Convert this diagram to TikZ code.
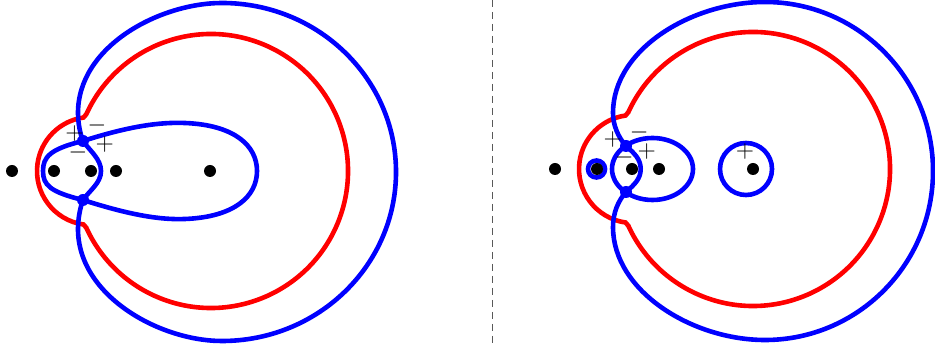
\documentclass[tikz,border=0pt]{standalone}
\usepackage{amsmath}
\usepackage{xcolor}
\begin{document}
\begin{tikzpicture}[x=0.5pt, y=0.5pt,
        punto/.style={circle, fill=black, inner sep=0pt, minimum size=6pt},
        cruce/.style={circle, fill=blue, inner sep=0pt, minimum size=6pt},
        rama/.style={line width=2.3pt},
        signo/.style={inner sep=0pt, text=black, font=\fontsize{13}{13}\selectfont}]
      \useasboundingbox (0,-180) rectangle (935,171);
      % Radios de la curva roja: circulo grande y arco pequeno
      \def\rgrande{137}
      \def\rchico{54}
      % ---------------- Panel izquierdo ----------------
      \begin{scope}
        % Curva roja
        \draw[rama, red] (211,0) ++(155.5:\rgrande) arc[start angle=155.5, end angle=-155.5, radius=\rgrande]
          -- (83.5,-53.5) arc[start angle=262, end angle=98, radius=\rchico] -- cycle;
        % Puntos de cruce
        \coordinate (Lc1) at (83,30);
        \coordinate (Lc2) at (83,-29);
        % Curva azul exterior
        \draw[rama, blue] (101,0) .. controls (101,12) and (90,20) .. (Lc1)
          .. controls (80,38) and (78,48) .. (78,58)
          .. controls (78,125) and (160,168) .. (222,168)
          arc[start angle=90, end angle=-90, x radius=174, y radius=169]
          .. controls (160,-170) and (78,-125) .. (78,-58)
          .. controls (78,-48) and (80,-37) .. (Lc2)
          .. controls (90,-19) and (101,-12) .. (101,0) -- cycle;
        % Lazo azul interior
        \draw[rama, blue] (Lc1) .. controls (130,45) and (160,49) .. (185,48)
          .. controls (235,46) and (257,25) .. (257,0)
          .. controls (257,-25) and (235,-46) .. (185,-48)
          .. controls (160,-49) and (130,-44) .. (Lc2)
          .. controls (50,-21) and (43,-14) .. (43,0)
          .. controls (43,14) and (50,22) .. (Lc1) -- cycle;
        % Puntos sobre el eje
        \foreach \x/\n in {12/a,54/b,91/c,116/d,210/e}
          \node[punto] (L\n) at (\x,0) {};
        \node[cruce] (Lx1) at (Lc1) {};
        \node[cruce] (Lx2) at (Lc2) {};
        % Signos
        \node[signo] (Ls1) at (74.5,37.7) {$+$};
        \node[signo] (Ls2) at (97,45) {$-$};
        \node[signo] (Ls3) at (104.7,26) {$+$};
        \node[signo] (Ls4) at (78,18.3) {$-$};
      \end{scope}
      % Linea divisoria
      \draw[dashed, black!65, line width=0.5pt, dash pattern=on 3.5pt off 2.5pt] (492,171) -- (492,-172);
      % ---------------- Panel derecho ----------------
      \begin{scope}[shift={(542,2)}]
        % Curva roja
        \draw[rama, red] (211,0) ++(155.5:\rgrande) arc[start angle=155.5, end angle=-155.5, radius=\rgrande]
          -- (83.5,-53.5) arc[start angle=262, end angle=98, radius=\rchico] -- cycle;
        % Puntos de cruce
        \coordinate (Rc1) at (84,23);
        \coordinate (Rc2) at (84,-23);
        % Curva azul exterior
        \draw[rama, blue] (98.7,0) .. controls (98.7,10) and (92,16) .. (Rc1)
          .. controls (76,32) and (71,44) .. (71,56)
          .. controls (71,120) and (150,167) .. (223,167)
          arc[start angle=90, end angle=-90, x radius=168, y radius=169]
          .. controls (150,-171) and (71,-122) .. (71,-58)
          .. controls (71,-44) and (76,-32) .. (Rc2)
          .. controls (92,-16) and (98.7,-10) .. (98.7,0) -- cycle;
        % Lazos azules
        \draw[rama, blue] (110.5,0) ellipse[x radius=40.5, y radius=31];
        \draw[rama, blue] (54.5,0) circle[radius=8.5];
        \draw[rama, blue] (204,0) circle[radius=26];
        % Puntos sobre el eje
        \foreach \x/\n in {13/a,55/b,90/c,117/d,211/e}
          \node[punto] (R\n) at (\x,0) {};
        \node[cruce] (Rx1) at (Rc1) {};
        \node[cruce] (Rx2) at (Rc2) {};
        % Signos
        \node[signo] (Rs1) at (70.7,29.7) {$+$};
        \node[signo] (Rs2) at (97.3,36.7) {$-$};
        \node[signo] (Rs3) at (104.7,17.3) {$+$};
        \node[signo] (Rs4) at (82.3,11.3) {$-$};
        \node[signo] (Rs5) at (203,17.3) {$+$};
      \end{scope}
    \end{tikzpicture}
\end{document}
